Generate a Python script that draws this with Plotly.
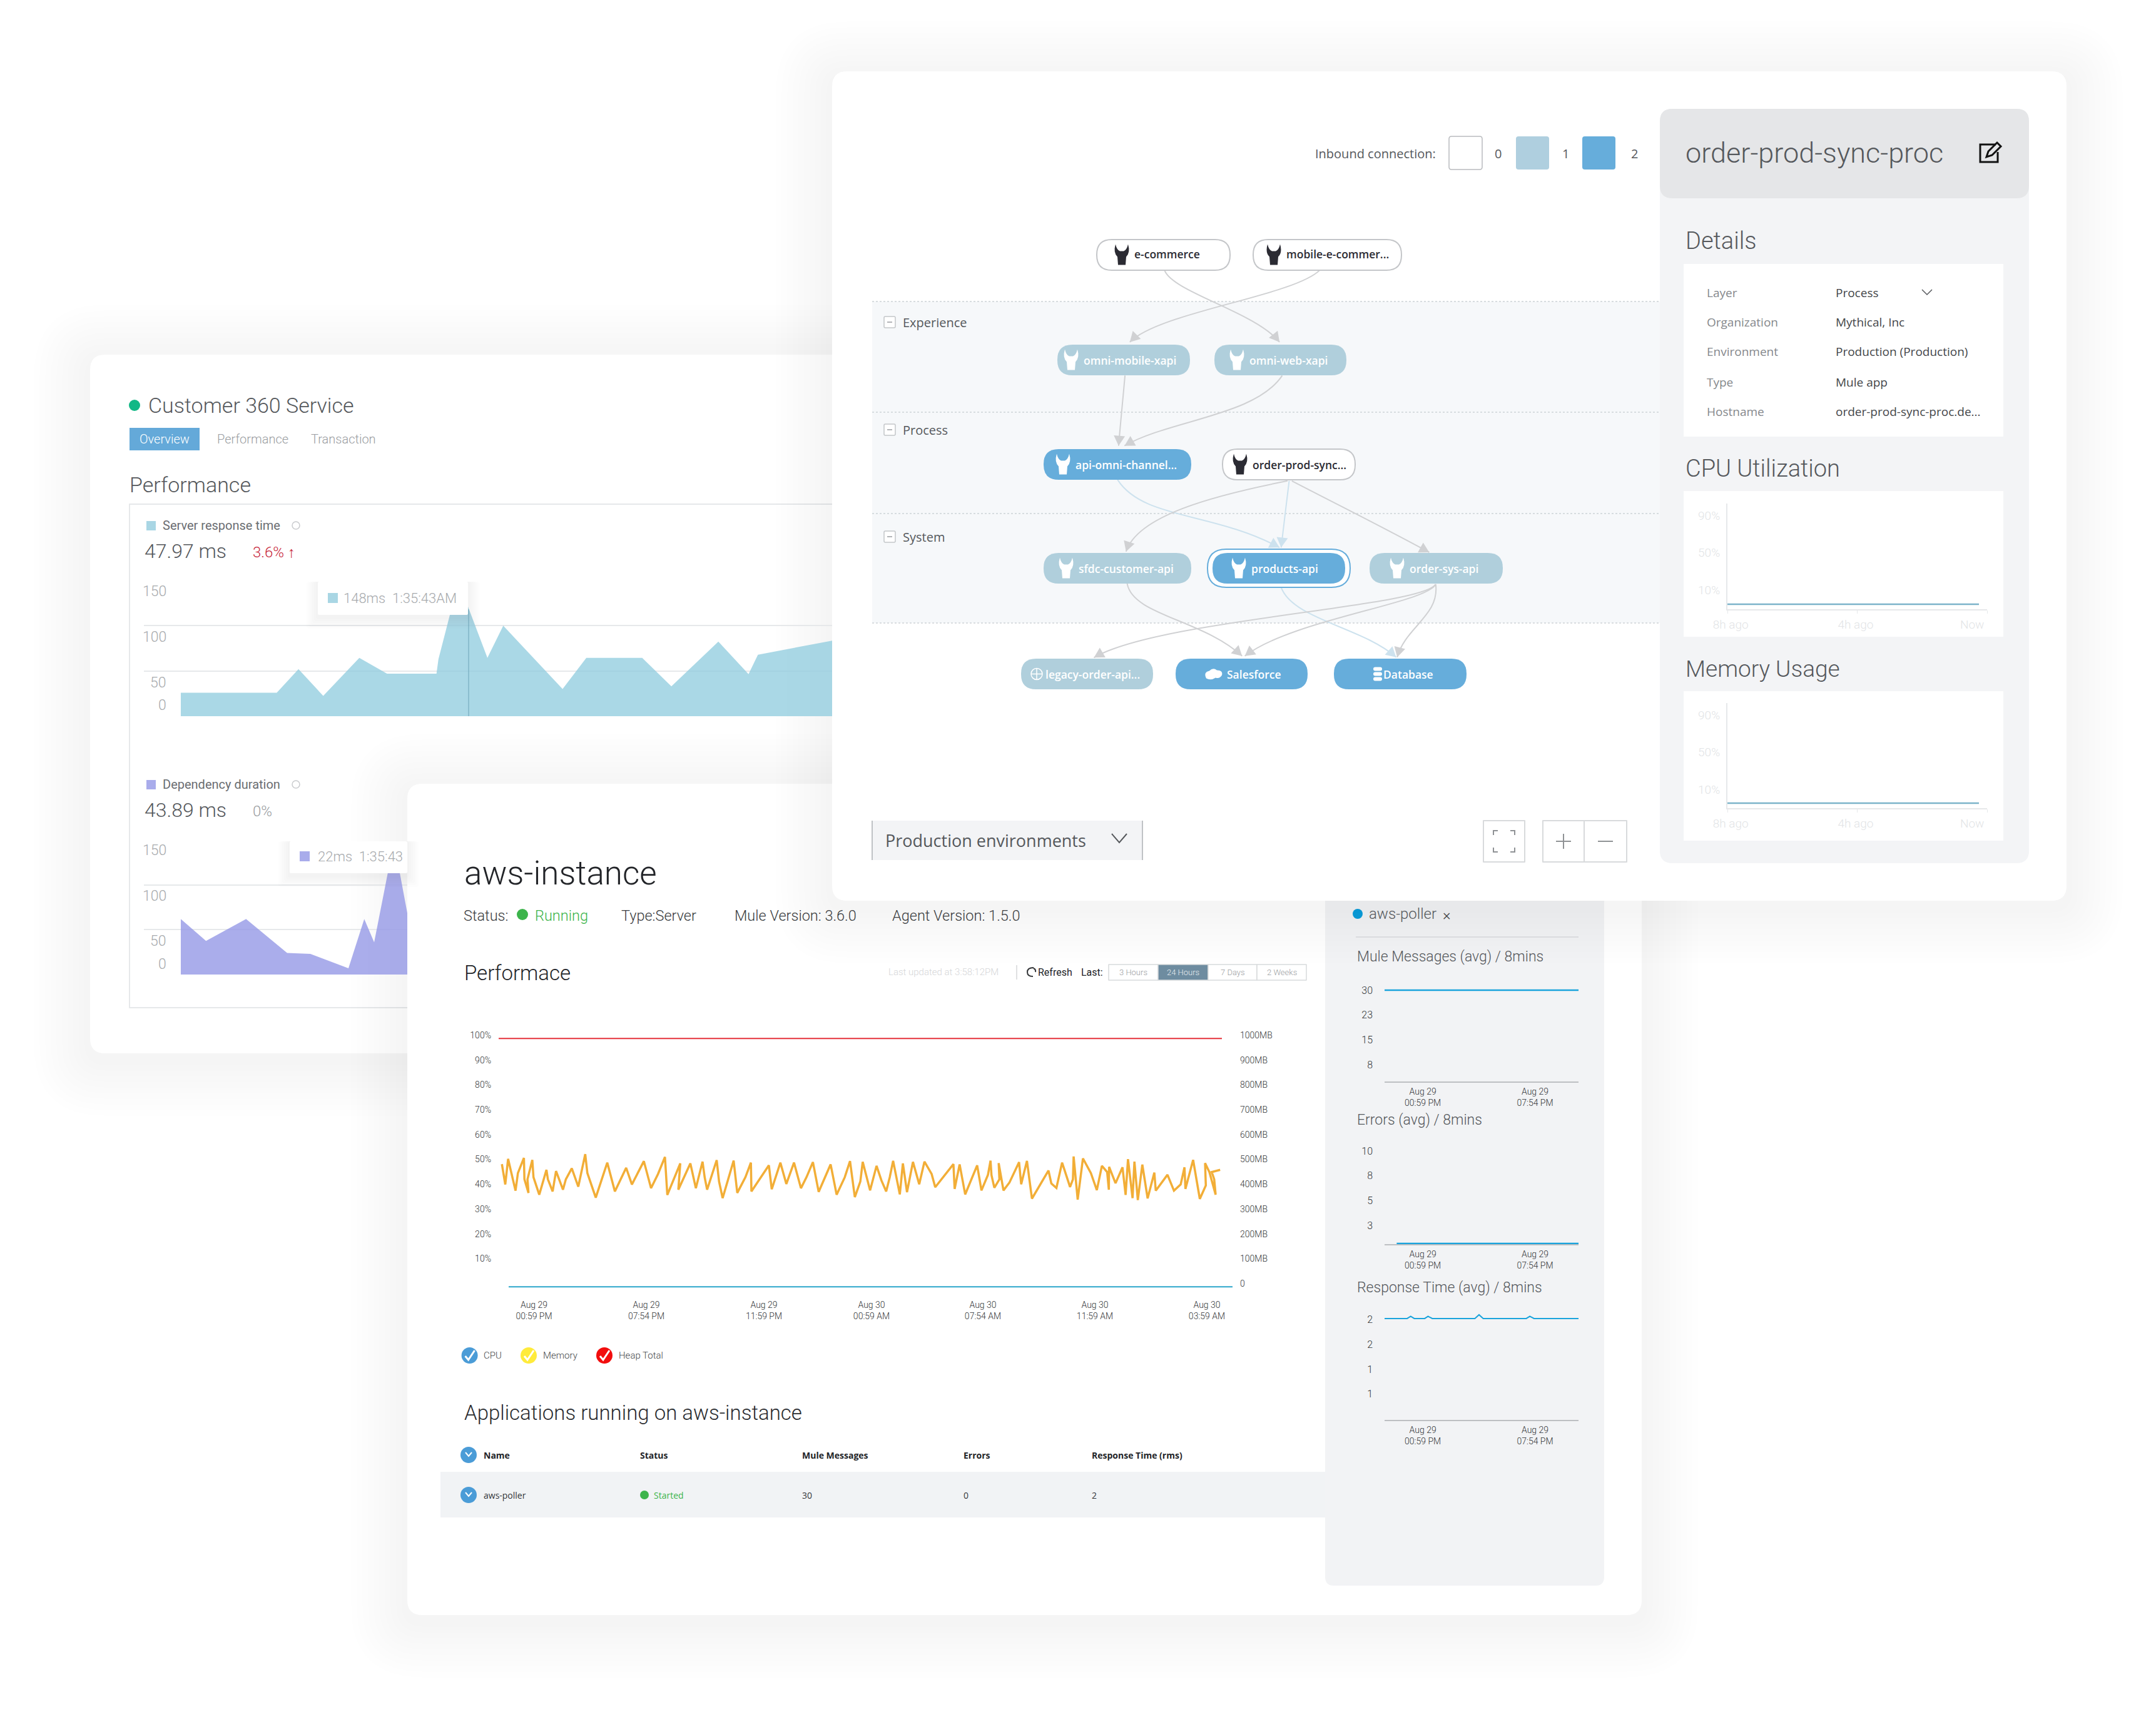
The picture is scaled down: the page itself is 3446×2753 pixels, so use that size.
import plotly.graph_objects as go

W, H = 3446, 2753
DIN = "Roboto"
SANS = "Open Sans"

# ---- data
server_t = [0, 19.4, 23.8, 28.8, 36.1, 41.7, 51.7, 52.1, 56.1, 56.2, 62, 65.2, 77.2, 82, 93.3, 99.2, 108.7, 114.8, 116.7, 131.7]
server_ms = [26, 26, 52, 22.5, 64.5, 47, 47, 63, 148, 148, 64.5, 100, 30, 64.5, 64.5, 33, 82.5, 46.5, 68, 83.5]
dep_t = [0, 5.1, 13.2, 21.5, 26.2, 33.9, 37.1, 39.1, 43.1, 45.8]
dep_ms = [62, 37.5, 62, 24, 23, 7, 62, 36, 148, 68.5]
y_ms_ticks = ["150", "100", "50", "0"]

cpu_pct_t = [1.22, 1.76, 2.21, 3.40, 3.78, 4.74, 4.82, 5.47, 5.31, 6.08, 6.27, 7.19, 8.34, 8.57, 9.33, 9.87, 10.98, 11.44, 12.39, 13.43,
             14.54, 14.88, 16.22, 18.06, 19.28, 21.08, 22.0, 23.91, 25.06, 26.17, 27.28, 27.66, 29.73, 29.42, 31.34, 32.22, 33.29, 33.63, 34.02, 35.55,
             35.93, 36.5, 38.26, 38.84, 40.14, 41.02, 41.1, 43.89, 44.35, 45.73, 46.68, 47.91, 49.02, 49.9, 50.93, 51.85, 53.76, 54.72, 56.02, 56.86,
             57.63, 58.51, 58.89, 60.07, 61.1, 61.87, 62.64, 63.21, 63.75, 64.82, 65.31, 65.97, 66.92, 67.92, 68.76, 69.91, 70.48, 73.39, 73.58, 74.38,
             75.27, 77.18, 77.87, 78.9, 79.32, 79.47, 79.93, 80.74, 80.62, 81.39, 82.35, 83.88, 84.22, 85.14, 85.94, 88.58, 89.04, 89.85, 90.76, 92.03,
             92.49, 92.6, 93.25, 94.09, 95.36, 96.31, 97.12, 97.96, 98.23, 98.27, 99.3, 100.41, 100.91, 101.29, 102.02, 102.32, 102.86, 103.58, 104.43, 105.5,
             105.73, 107.6, 108.64, 109.71, 110.32, 110.47, 111.7, 112.77, 113.73, 113.61, 114.3, 115.3, 115.07, 114.68, 116.02]
cpu_pct = [48.1, 39.9, 50.2, 37.4, 44.5, 50.6, 42.0, 36.5, 42.0, 49.8, 42.8, 35.8, 45.8, 42.0, 37.1, 45.3, 37.8, 42.0, 46.4, 39.0,
           52.1, 44.5, 34.6, 48.7, 37.1, 46.6, 39.9, 49.3, 38.4, 44.1, 51.0, 35.7, 48.4, 37.8, 48.4, 38.4, 49.1, 42.8, 37.8, 49.7,
           41.1, 34.4, 49.5, 36.5, 42.8, 48.7, 37.1, 47.6, 38.0, 48.7, 40.1, 48.7, 38.4, 42.8, 48.9, 36.9, 48.0, 35.8, 42.8, 49.3,
           34.8, 41.1, 49.0, 37.5, 47.4, 41.6, 37.1, 42.8, 49.4, 35.9, 48.4, 36.8, 49.0, 40.0, 49.1, 44.1, 38.8, 48.1, 38.1, 48.0,
           35.9, 47.6, 37.5, 43.7, 49.5, 43.7, 38.6, 42.0, 48.5, 37.5, 40.7, 48.9, 40.0, 49.4, 34.2, 45.5, 40.3, 38.5, 48.7, 38.9,
           42.0, 51.2, 33.8, 50.4, 44.5, 37.6, 47.4, 44.9, 37.8, 47.0, 40.4, 46.8, 35.7, 50.1, 34.4, 49.1, 33.6, 47.9, 34.3, 44.7,
           37.4, 43.8, 37.4, 39.9, 46.8, 38.1, 49.8, 34.1, 39.5, 48.5, 44.9, 35.8, 42.0, 44.9, 45.8]
heap_t = [0.7, 116.3]
heap_mb = [987, 987]
memory_t = [2.3, 118]
memory_mb = [-13, -13]
pct_ticks = [100, 90, 80, 70, 60, 50, 40, 30, 20, 10]
pct_labels = ["100%", "90%", "80%", "70%", "60%", "50%", "40%", "30%", "20%", "10%"]
mb_ticks = [1000, 900, 800, 700, 600, 500, 400, 300, 200, 100, 0]
mb_labels = ["1000MB", "900MB", "800MB", "700MB", "600MB", "500MB", "400MB", "300MB", "200MB", "100MB", "0"]
time_ticks = [6.35, 24.3, 43.1, 60.3, 78.1, 96, 113.9]
time_labels = ["Aug 29<br>00:59 PM", "Aug 29<br>07:54 PM", "Aug 29<br>11:59 PM", "Aug 30<br>00:59 AM",
               "Aug 30<br>07:54 AM", "Aug 30<br>11:59 AM", "Aug 30<br>03:59 AM"]

usage_h = [-8, -0.25]
cpu_usage = [-5.4, -5.4]
mem_usage = [-4.5, -4.5]
usage_ticks = [10, 50, 90]
usage_labels = ["10%", "50%", "90%"]
ago_ticks = [-7.9, -4.05, -0.46]
ago_labels = ["8h ago", "4h ago", "Now"]

mule_t = [0, 92.8]
mule_avg = [30, 30]
mule_ticks = [30, 22.5, 15, 7.5]
mule_labels = ["30", "23", "15", "8"]
errors_t = [5.8, 92.8]
errors_avg = [0.67, 0.67]
errors_ticks = [10, 7.5, 5, 2.5]
errors_labels = ["10", "8", "5", "3"]
resp_t = [0, 10.8, 12.5, 14.2, 19.2, 20.8, 22.8, 43.2, 45.2, 47.2, 67.8, 69.5, 71.5, 92.8]
resp_avg = [2.025, 2.025, 2.07, 2.025, 2.025, 2.07, 2.025, 2.025, 2.1, 2.025, 2.025, 2.07, 2.025, 2.025]
resp_ticks = [2, 1.5, 1, 0.5]
resp_labels = ["2", "2", "1", "1"]
aug_ticks = [18.3, 72]
aug_labels = ["Aug 29<br>00:59 PM", "Aug 29<br>07:54 PM"]

detail_keys = ["Layer", "Organization", "Environment", "Type", "Hostname"]
detail_vals = ["Process", "Mythical, Inc", "Production (Production)", "Mule app", "order-prod-sync-proc.de..."]

LIGHT_NODE = "#B0CFDC"
BLUE_NODE = "#66ADDB"
# name, x0, x1, y0, fill, text colour, text x, icon
nodes = [
    ("e-commerce", 1753, 1966, 383, "#FFFFFF", "#2B2B33", 1813, "mule"),
    ("mobile-e-commer...", 2003, 2240, 383, "#FFFFFF", "#2B2B33", 2056, "mule"),
    ("omni-mobile-xapi", 1690, 1902, 551, LIGHT_NODE, "#FFFFFF", 1732, "mule"),
    ("omni-web-xapi", 1941, 2152, 551, LIGHT_NODE, "#FFFFFF", 1997, "mule"),
    ("api-omni-channel...", 1668, 1904, 718, BLUE_NODE, "#FFFFFF", 1719, "mule"),
    ("order-prod-sync...", 1954, 2166, 718, "#FFFFFF", "#2B2B33", 2002, "mule"),
    ("sfdc-customer-api", 1668, 1904, 884, LIGHT_NODE, "#FFFFFF", 1724, "mule"),
    ("products-api", 1938, 2150, 884, BLUE_NODE, "#FFFFFF", 2000, "mule"),
    ("order-sys-api", 2189, 2402, 884, LIGHT_NODE, "#FFFFFF", 2253, "mule"),
    ("legacy-order-api...", 1632, 1843, 1053, LIGHT_NODE, "#FFFFFF", 1671, "globe"),
    ("Salesforce", 1879, 2090, 1053, BLUE_NODE, "#FFFFFF", 1961, "cloud"),
    ("Database", 2132, 2344, 1053, BLUE_NODE, "#FFFFFF", 2211, "db"),
]

GREY_EDGE = "#D0D1D3"
PALE_EDGE = "#CDE2EE"
# curves in crop coordinates of the graph area, converted by net()
edges = [
    ((610, 505), (625, 560), (780, 610), (825, 685), GREY_EDGE),
    ((900, 505), (850, 570), (600, 610), (545, 685), GREY_EDGE),
    ((536, 769), (532, 830), (528, 880), (524, 945), GREY_EDGE),
    ((830, 769), (780, 870), (620, 880), (535, 945), GREY_EDGE),
    ((522, 1030), (570, 1130), (700, 1110), (825, 1200), PALE_EDGE),
    ((840, 1033), (700, 1070), (560, 1120), (538, 1210), GREY_EDGE),
    ((843, 1033), (838, 1090), (833, 1140), (828, 1200), PALE_EDGE),
    ((848, 1033), (930, 1090), (1020, 1150), (1105, 1212), GREY_EDGE),
    ((540, 1290), (550, 1370), (680, 1380), (755, 1472), GREY_EDGE),
    ((828, 1300), (850, 1380), (980, 1400), (1043, 1475), PALE_EDGE),
    ((1117, 1292), (1100, 1340), (850, 1380), (760, 1472), GREY_EDGE),
    ((1117, 1292), (1090, 1350), (600, 1380), (478, 1476), GREY_EDGE),
    ((1117, 1292), (1125, 1370), (1060, 1400), (1045, 1475), GREY_EDGE),
]


def net(p):
    return 1340 + p[0] / 1.17, 110 + p[1] / 1.568


shapes = []
notes = []


def rrect_path(x0, y0, x1, y1, r):
    return (f"M {x0+r} {y0} L {x1-r} {y0} Q {x1} {y0} {x1} {y0+r} L {x1} {y1-r} Q {x1} {y1} {x1-r} {y1} "
            f"L {x0+r} {y1} Q {x0} {y1} {x0} {y1-r} L {x0} {y0+r} Q {x0} {y0} {x0+r} {y0} Z")


def path(d, fill=None, line=None, width=0, layer="below"):
    s = dict(type="path", path=d, xref="x", yref="y", layer=layer, line=dict(width=width, color=line or "rgba(0,0,0,0)"))
    if fill:
        s["fillcolor"] = fill
    shapes.append(s)


def rbox(x0, y0, x1, y1, r=0, fill=None, line=None, width=0, layer="below"):
    path(rrect_path(x0, y0, x1, y1, max(r, 0.01)), fill, line, width, layer)


def seg(x0, y0, x1, y1, color, width=2, dash="solid", layer="below"):
    shapes.append(dict(type="line", x0=x0, y0=y0, x1=x1, y1=y1, xref="x", yref="y", layer=layer,
                       line=dict(color=color, width=width, dash=dash)))


def dot(cx, cy, r, fill, line=None, width=0, layer="below"):
    shapes.append(dict(type="circle", x0=cx-r, y0=cy-r, x1=cx+r, y1=cy+r, xref="x", yref="y", layer=layer,
                       fillcolor=fill, line=dict(width=width, color=line or "rgba(0,0,0,0)")))


def txt(x, y, s, size, color="#55585C", anchor="left", weight=300, family=DIN):
    if anchor == "left":
        x -= 2.5
    notes.append(dict(x=x, y=y, xref="x", yref="y", text=s, showarrow=False, xanchor=anchor, yanchor="middle",
                      font=dict(family=family, size=size, color=color, weight=weight), align="center"))


def card(x0, y0, x1, y1, r=24):
    # each layer darkens by one 8-bit level, weaker alphas round away to nothing
    for i in range(10, 0, -1):
        g = i * 9
        rbox(x0-g, y0-g+10, x1+g, y1+g+10, r+g, "rgba(60,60,70,0.0026)")
    rbox(x0, y0, x1, y1, r, "#FFFFFF")


def tooltip(x0, y0, x1, y1):
    for i in range(6, 0, -1):
        g = i * 3
        rbox(x0-g, y0, x1+g, y1+g+4, 4, "rgba(60,60,70,0.012)", layer="above")
    rbox(x0, y0, x1, y1, 2, "#FFFFFF", layer="above")


def check(cx, cy, color="#FFFFFF"):
    path(f"M {cx-7} {cy+1} L {cx-2} {cy+7} L {cx+8} {cy-8}", None, color, 3)


def chevron(cx, cy, w, h, color, width=2):
    path(f"M {cx-w} {cy-h} L {cx} {cy+h} L {cx+w} {cy-h}", None, color, width)


def mule(cx, cy, color):
    path(f"M {cx-10} {cy-17} Q {cx-8} {cy-8} {cx-3} {cy-6} L {cx+3} {cy-6} Q {cx+8} {cy-8} {cx+10} {cy-17} "
         f"Q {cx+14} {cy-4} {cx+7} {cy+3} L {cx+6} {cy+16} L {cx-6} {cy+16} L {cx-7} {cy+3} Q {cx-14} {cy-4} {cx-10} {cy-17} Z", color)


# ---- back card: Customer 360 Service
card(144, 567, 1500, 1684)
dot(215, 648, 9, "#12B886")
txt(237, 648, "Customer 360 Service", 34)
rbox(207, 684, 319, 720, 0, "#64A9D9")
txt(263, 702, "Overview", 20, "#FFFFFF", "center")
txt(347, 702, "Performance", 20, "#9A9DA1")
txt(497, 702, "Transaction", 20, "#9A9DA1")
txt(207, 775, "Performance", 34)
rbox(207, 806, 1500, 1611, 0, "#FFFFFF", "#E6E8EA", 2)

rbox(234, 833, 249, 848, 0, "#A9D6E4")
txt(260, 840, "Server response time", 20, "#6A6D71", weight=400)
dot(473, 840, 6, "#FFFFFF", "#C9CBCE", 1.5)
txt(231, 881, "47.97 ms", 32)
txt(404, 883, "3.6% ↑", 24, "#C8283C")
for lab, yy in zip(y_ms_ticks, [945, 1018, 1091, 1127]):
    txt(268, yy, lab, 23, "#A7AAAD", "right")

rbox(234, 1247, 249, 1262, 0, "#A9ACEB")
txt(260, 1254, "Dependency duration", 20, "#6A6D71", weight=400)
dot(473, 1254, 6, "#FFFFFF", "#C9CBCE", 1.5)
txt(231, 1295, "43.89 ms", 32)
txt(404, 1297, "0%", 24, "#9A9DA1")
for lab, yy in zip(y_ms_ticks, [1359, 1432, 1504, 1541]):
    txt(268, yy, lab, 23, "#A7AAAD", "right")

tooltip(508, 930, 748, 983)
rbox(524, 948, 540, 964, 0, "#A9D6E4", layer="above")
txt(549, 956, "148ms  1:35:43AM", 22, "#A7AAAD")
shapes.append(dict(type="line", xref="x2", yref="y2", x0=58.2, x1=58.2, y0=0, y1=118, layer="above",
                   line=dict(color="rgba(90,150,170,0.5)", width=1.5)))
tooltip(463, 1345, 651, 1396)
rbox(479, 1361, 495, 1377, 0, "#A9ACEB", layer="above")
txt(508, 1369, "22ms  1:35:43", 22, "#A7AAAD")

# ---- front-left card: aws-instance
card(651, 1253, 2624, 2582)
txt(742, 1396, "aws-instance", 53, "#222428")
txt(741, 1464, "Status:", 23.5, "#3A3C40")
dot(835, 1462, 9, "#3CB44B")
txt(855, 1464, "Running", 23.5, "#3CB44B")
txt(993, 1464, "Type:Server", 23.5, "#3A3C40")
txt(1174, 1464, "Mule Version: 3.6.0", 23.5, "#3A3C40")
txt(1426, 1464, "Agent Version: 1.5.0", 23.5, "#3A3C40")
txt(742, 1555, "Performace", 33, "#222428")
txt(1420, 1554, "Last updated at 3:58:12PM", 15, "#D5D6D8")
seg(1625, 1543, 1625, 1566, "#D5D6D8", 1.5)
path("M 1652 1547 Q 1642 1547 1642 1554 Q 1642 1561 1651 1561 M 1652 1548 Q 1656 1550 1655 1554", None, "#333538", 2)
txt(1659, 1554, "Refresh", 16, "#222428", weight=400)
txt(1728, 1554, "Last:", 16, "#222428", weight=400)
for lab, x0, x1, on in [("3 Hours", 1772, 1851, False), ("24 Hours", 1851, 1931, True),
                        ("7 Days", 1931, 2009, False), ("2 Weeks", 2009, 2088, False)]:
    rbox(x0, 1542, x1, 1567, 0, "#6E8CA0" if on else "#FFFFFF", "#D8DADC", 1.5)
    txt((x0+x1)/2, 1554.5, lab, 13, "#E8EDF0" if on else "#9A9DA1", "center")

for lab, cx, tx, col in [("CPU", 750.6, 773, "#4B9CD7"), ("Memory", 845, 868, "#FFEB3B"), ("Heap Total", 966, 989, "#F20D0D")]:
    dot(cx, 2167, 13, col)
    check(cx, 2167)
    txt(tx, 2167, lab, 15, "#444649")
txt(742, 2258, "Applications running on aws-instance", 33, "#2A2C30")

dot(749, 2326, 13, "#4B9CD7")
chevron(749, 2325, 5, 3, "#FFFFFF")
for lab, x in [("Name", 773), ("Status", 1023), ("Mule Messages", 1282), ("Errors", 1540), ("Response Time (rms)", 1745)]:
    txt(x, 2326, lab, 14, "#222428", weight=700, family=SANS)
rbox(704, 2353, 2118, 2426, 0, "#F1F3F5")
dot(749, 2390, 13, "#4B9CD7")
chevron(749, 2389, 5, 3, "#FFFFFF")
txt(773, 2390, "aws-poller", 14, "#333538", weight=400, family=SANS)
dot(1030, 2390, 7, "#3CB44B")
txt(1045, 2390, "Started", 14, "#3CB44B", weight=400, family=SANS)
txt(1282, 2390, "30", 14, "#333538", weight=400, family=SANS)
txt(1540, 2390, "0", 14, "#333538", weight=400, family=SANS)
txt(1745, 2390, "2", 14, "#333538", weight=400, family=SANS)

rbox(2118, 1400, 2564, 2535, 14, "#F2F3F5")
dot(2170, 1461, 8, "#12A0DC")
txt(2188, 1461, "aws-poller", 24)
txt(2306, 1463, "×", 24, "#444649")
seg(2167, 1498, 2523, 1498, "#D8DADC", 1.5)
txt(2169, 1529, "Mule Messages (avg) / 8mins", 23)
txt(2169, 1790, "Errors (avg) / 8mins", 23)
txt(2169, 2058, "Response Time (avg) / 8mins", 23)

# ---- top card: graph and detail panel
card(1330, 114, 3303, 1440)
rbox(1394, 482, 2653, 996, 0, "#F6F8FA")
for yy in [482, 659, 821, 996]:
    seg(1394, yy, 2653, yy, "#CDD2D6", 1.5, "dot")
for lab, yy in [("Experience", 515), ("Process", 687), ("System", 858)]:
    rbox(1413, yy-9, 1431, yy+9, 2, "#FFFFFF", "#C3C6C9", 1.5)
    seg(1418, yy, 1426, yy, "#9A9DA1", 1.5)
    txt(1443, yy, lab, 20, "#55585C", weight=400, family=SANS)

txt(2102, 245, "Inbound connection:", 20, "#55585C", weight=400, family=SANS)
rbox(2316, 218, 2369, 271, 4, "#FFFFFF", "#B9BBBE", 1.5)
txt(2394, 245, "0", 20, "#55585C", "center", weight=400, family=SANS)
rbox(2423, 218, 2476, 271, 4, "#AFCFDF")
txt(2502, 245, "1", 20, "#55585C", "center", weight=400, family=SANS)
rbox(2529, 218, 2582, 271, 4, BLUE_NODE)
txt(2612, 245, "2", 20, "#55585C", "center", weight=400, family=SANS)

for a, b, c, d, col in edges:
    p0, p1, p2, p3 = net(a), net(b), net(c), net(d)
    path(f"M {p0[0]:.1f} {p0[1]:.1f} C {p1[0]:.1f} {p1[1]:.1f} {p2[0]:.1f} {p2[1]:.1f} {p3[0]:.1f} {p3[1]:.1f}", None, col, 2)
    dx, dy = p3[0]-p2[0], p3[1]-p2[1]
    n = (dx*dx + dy*dy) ** 0.5
    dx, dy = dx/n, dy/n
    bx, by = p3[0]-dx*16, p3[1]-dy*16
    path(f"M {p3[0]:.1f} {p3[1]:.1f} L {bx-dy*9:.1f} {by+dx*9:.1f} L {bx+dy*9:.1f} {by-dx*9:.1f} Z", col)

rbox(1930, 878, 2158, 939, 30, "#FFFFFF", BLUE_NODE, 2)
for name, x0, x1, y0, fill, tcol, tx, icon in nodes:
    y1 = y0 + 49
    cy = y0 + 24.5
    rbox(x0, y0, x1, y1, 24, fill, "#C4C6C9" if fill == "#FFFFFF" else None, 2 if fill == "#FFFFFF" else 0)
    if icon == "mule":
        mule(tx-20, cy, tcol)
    elif icon == "globe":
        dot(tx-14, cy, 9, fill, "#FFFFFF", 1.5)
        seg(tx-14, cy-9, tx-14, cy+9, "#FFFFFF", 1.5)
        seg(tx-23, cy, tx-5, cy, "#FFFFFF", 1.5)
    elif icon == "cloud":
        path(f"M {tx-33} {cy+7} Q {tx-38} {cy-3} {tx-28} {cy-5} Q {tx-22} {cy-11} {tx-16} {cy-6} "
             f"Q {tx-6} {cy-6} {tx-8} {cy+2} Q {tx-12} {cy+8} {tx-18} {cy+6} Q {tx-26} {cy+11} {tx-33} {cy+7} Z", "#FFFFFF")
    else:
        for k in (-8, 0, 8):
            rbox(tx-16, cy+k-3, tx-2, cy+k+3, 3, "#FFFFFF")
    txt(tx, cy - (1.5 if y0 == 383 else 0), name, 17.5, tcol, weight=600, family=SANS)

rbox(1394, 1312, 1826, 1375, 0, "#F3F4F6")
seg(1394, 1312, 1394, 1375, "#BFC2C5", 2)
seg(1826, 1312, 1826, 1375, "#BFC2C5", 2)
txt(1415, 1343, "Production environments", 27, "#55585C", weight=400, family=SANS)
chevron(1789, 1340, 12, 7, "#55585C", 2)
rbox(2371, 1312, 2437, 1378, 0, "#FFFFFF", "#D8DADC", 2)
for sx, sy in [(-1, -1), (1, -1), (-1, 1), (1, 1)]:
    cx, cy = 2404 + sx*17, 1345 + sy*17
    path(f"M {cx} {cy-sy*7} L {cx} {cy} L {cx-sx*7} {cy}", None, "#8F9295", 2)
rbox(2466, 1312, 2600, 1378, 0, "#FFFFFF", "#D8DADC", 2)
seg(2532, 1312, 2532, 1378, "#D8DADC", 2)
seg(2487, 1345, 2511, 1345, "#8F9295", 2)
seg(2499, 1333, 2499, 1357, "#8F9295", 2)
seg(2554, 1345, 2578, 1345, "#8F9295", 2)

rbox(2653, 174, 3243, 1380, 20, "#F3F4F6")
rbox(2653, 174, 3243, 317, 20, "#E5E6E8")
txt(2694, 244, "order-prod-sync-proc", 45)
path("M 3190 231 L 3165 231 L 3165 259 L 3193 259 L 3193 243", None, "#111111", 3)
path("M 3175 251 L 3178 242 L 3192 228 L 3198 234 L 3184 248 Z", None, "#111111", 3)
txt(2694, 385, "Details", 38)
rbox(2691, 422, 3202, 698, 0, "#FFFFFF")
for k, v, yy in zip(detail_keys, detail_vals, [467.5, 515, 562, 610.6, 658]):
    txt(2728, yy, k, 19, "#85888C", weight=400, family=SANS)
    txt(2934, yy, v, 19, "#444649", weight=400, family=SANS)
chevron(3080, 467, 8, 4, "#55585C", 1.5)
txt(2694, 749, "CPU Utilization", 38)
rbox(2691, 785, 3202, 1018, 0, "#FFFFFF")
txt(2694, 1069, "Memory Usage", 37)
rbox(2691, 1105, 3202, 1344, 0, "#FFFFFF")


def dom_x(a, b):
    return [a / W, b / W]


def dom_y(top, bottom):
    return [1 - bottom / H, 1 - top / H]


fig = go.Figure()
# pixel frame every card shape hangs on
fig.add_trace(go.Scatter(x=[0, W], y=[0, H], mode="markers", marker=dict(opacity=0), hoverinfo="skip", xaxis="x", yaxis="y"))


def line(x, y, color, width, ax, ay):
    fig.add_trace(go.Scatter(x=x, y=y, mode="lines", line=dict(color=color, width=width), hoverinfo="skip", xaxis=ax, yaxis=ay))


fig.add_trace(go.Scatter(x=server_t, y=server_ms, mode="lines", fill="tozeroy", fillcolor="rgba(142,203,221,0.75)",
                         line=dict(width=0), hoverinfo="skip", xaxis="x2", yaxis="y2"))
fig.add_trace(go.Scatter(x=dep_t, y=dep_ms, mode="lines", fill="tozeroy", fillcolor="rgba(146,150,230,0.78)",
                         line=dict(width=0), hoverinfo="skip", xaxis="x3", yaxis="y3"))
line(cpu_pct_t, cpu_pct, "#F2AE37", 3.5, "x4", "y4")
line(heap_t, heap_mb, "#E5303A", 2, "x4", "y5")
line(memory_t, memory_mb, "#2BA6CB", 2, "x4", "y5")
line(usage_h, cpu_usage, "#7BB3C9", 2.5, "x6", "y6")
line(usage_h, mem_usage, "#7BB3C9", 2.5, "x7", "y7")
line(mule_t, mule_avg, "#1AA3DC", 2.5, "x8", "y8")
line(errors_t, errors_avg, "#1AA3DC", 2.5, "x9", "y9")
line(resp_t, resp_avg, "#1AA3DC", 2, "x10", "y10")

blank = dict(showgrid=False, zeroline=False, showticklabels=False, ticks="", fixedrange=True, automargin=False)
tick_font = dict(family=DIN, size=14, color="#333538", weight=300)
pale_font = dict(family=DIN, size=19, color="#E2E4E6", weight=300)
grid_y = dict(blank, showgrid=True, gridcolor="#E6E8EA", gridwidth=1.5, tickvals=[0, 50, 100, 150], range=[0, 150])
usage_x = dict(blank, range=[-8, 0], tickvals=ago_ticks, ticktext=ago_labels, showticklabels=True, tickfont=pale_font,
               showline=True, linecolor="#E6E8EA", linewidth=2, ticklabelstandoff=6,
               minor=dict(tickvals=[-8, -4, 0], ticks="outside", ticklen=5, tickcolor="#E6E8EA"))
usage_y = dict(blank, tickvals=usage_ticks, ticktext=usage_labels, showticklabels=True, tickfont=pale_font,
               showline=True, linecolor="#E6E8EA", linewidth=2, ticklabelstandoff=6)
small_x = dict(blank, range=[0, 92.8], tickvals=aug_ticks, ticktext=aug_labels, showticklabels=True, tickfont=dict(tick_font, size=14),
               showline=True, linecolor="#BDBFC2", linewidth=1.5, ticklabelstandoff=2)
small_y = dict(blank, showticklabels=True, tickfont=dict(tick_font, size=16), ticklabelstandoff=18)

fig.update_layout(
    width=W, height=H, autosize=False, margin=dict(l=0, r=0, t=0, b=0), showlegend=False,
    paper_bgcolor="#FFFFFF", plot_bgcolor="rgba(0,0,0,0)", shapes=shapes, annotations=notes,
    xaxis=dict(blank, visible=False, range=[0, W], domain=[0, 1]),
    yaxis=dict(blank, visible=False, range=[H, 0], domain=[0, 1]),
    xaxis2=dict(blank, range=[-7.46, 131.7], domain=dom_x(230, 1330), anchor="y2"),
    yaxis2=dict(grid_y, domain=dom_y(928, 1145), anchor="x2"),
    xaxis3=dict(blank, range=[-7.46, 45.8], domain=dom_x(230, 651), anchor="y3"),
    yaxis3=dict(grid_y, domain=dom_y(1343, 1558), anchor="x3"),
    xaxis4=dict(blank, range=[0, 118.7], domain=dom_x(790, 1977), anchor="y4", tickvals=time_ticks, ticktext=time_labels,
                showticklabels=True, tickfont=tick_font, ticklabelstandoff=14),
    yaxis4=dict(blank, range=[-2.52, 103.3], domain=dom_y(1642, 2062), anchor="x4", tickvals=pct_ticks, ticktext=pct_labels,
                showticklabels=True, tickfont=tick_font, ticklabelstandoff=4),
    yaxis5=dict(blank, range=[-25.2, 1033], anchor="x4", overlaying="y4", side="right", tickvals=mb_ticks, ticktext=mb_labels,
                showticklabels=True, tickfont=tick_font, ticklabelstandoff=4),
    xaxis6=dict(usage_x, domain=dom_x(2761, 3176), anchor="y6"),
    yaxis6=dict(usage_y, range=[-10.7, 102.8], domain=dom_y(805, 974), anchor="x6"),
    xaxis7=dict(usage_x, domain=dom_x(2761, 3176), anchor="y7"),
    yaxis7=dict(usage_y, range=[-9.9, 102.8], domain=dom_y(1124, 1292), anchor="x7"),
    xaxis8=dict(small_x, domain=dom_x(2213, 2523), anchor="y8"),
    yaxis8=dict(small_y, range=[2.4, 32.1], domain=dom_y(1572, 1729), anchor="x8", tickvals=mule_ticks, ticktext=mule_labels),
    xaxis9=dict(small_x, domain=dom_x(2213, 2523), anchor="y9"),
    yaxis9=dict(small_y, range=[0.61, 10.7], domain=dom_y(1829, 1989), anchor="x9", tickvals=errors_ticks, ticktext=errors_labels),
    xaxis10=dict(small_x, domain=dom_x(2213, 2523), anchor="y10"),
    yaxis10=dict(small_y, range=[-0.02, 2.15], domain=dom_y(2098, 2270), anchor="x10", tickvals=resp_ticks, ticktext=resp_labels),
)

fig.write_html("out.html", config={"displayModeBar": False}, post_script="document.body.style.margin='0';")
